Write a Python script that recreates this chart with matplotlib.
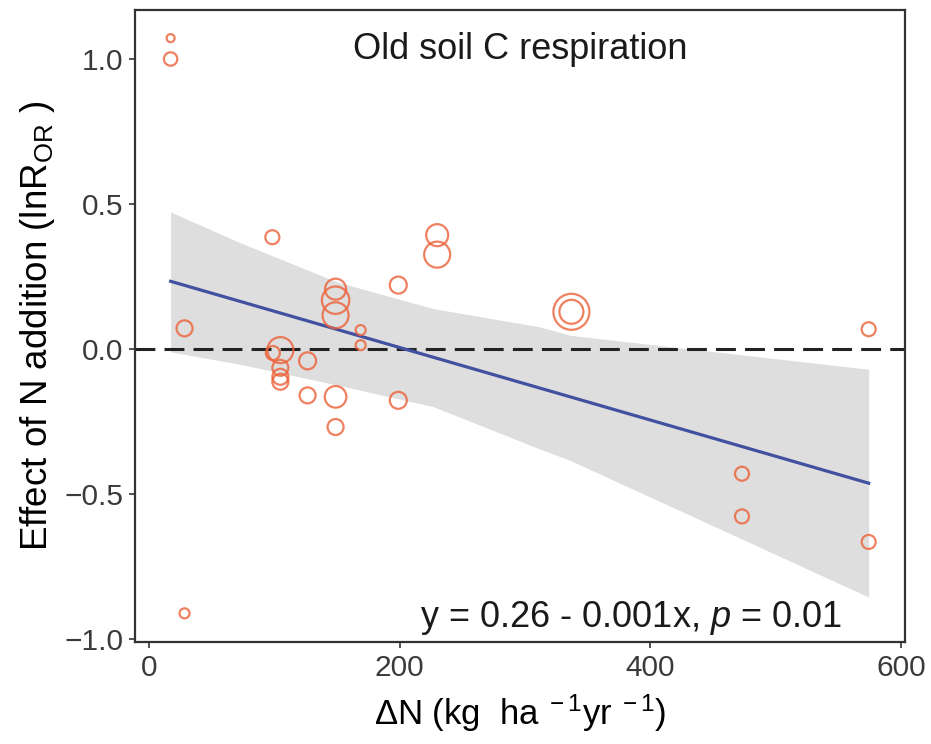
import numpy as np
import matplotlib
matplotlib.use("Agg")
import matplotlib.pyplot as plt

plt.rcParams['font.family'] = ['Liberation Sans', 'DejaVu Sans']
plt.rcParams['mathtext.fontset'] = 'custom'
plt.rcParams['mathtext.rm'] = 'Liberation Sans'
plt.rcParams['mathtext.it'] = 'Liberation Sans:italic'

# data
dn = [17.5, 17.5, 28.6, 28.6, 98.6, 99, 105, 105, 105, 105, 126.7, 126.7,
      149, 149, 149, 149, 149, 169, 169, 199, 199, 230, 230, 337, 337,
      473, 473, 574, 574]
lnr = [1.072, 1.0, 0.072, -0.91, 0.386, -0.013, -0.003, -0.064, -0.095, -0.112,
       -0.04, -0.159, 0.207, 0.169, 0.117, -0.164, -0.268, 0.066, 0.014,
       0.221, -0.176, 0.393, 0.326, 0.129, 0.129, -0.429, -0.576, 0.069, -0.664]
wt = [4, 6.7, 8, 5, 7, 7, 13, 8, 8, 8, 8.5, 8, 10.5, 13.7, 13, 10.8, 8,
      5, 5, 8.5, 8.5, 11, 13, 18, 12, 7, 7, 7, 7]

intercept = 0.256
slope = -0.00125

# confidence band edges
ci_x = [17.5, 73, 150, 227, 312, 336, 574]
ci_hi = [0.473, 0.367, 0.232, 0.140, 0.077, 0.048, -0.069]
ci_lo = [-0.009, -0.052, -0.123, -0.198, -0.344, -0.383, -0.854]

fig = plt.figure(figsize=(9.31, 7.44), dpi=100)
ax = fig.add_axes([0.145, 0.137, 0.827, 0.8496])

ax.fill_between(ci_x, ci_lo, ci_hi, color='#DEDEDE', lw=0, zorder=1)
ax.axhline(0, color='#222222', lw=2.2, dashes=(6.5, 3), zorder=2)

xx = np.array([min(dn), max(dn)])
ax.plot(xx, intercept + slope * xx, color='#4151A0', lw=2.3, zorder=3)

sizes = [(1.44 * w) ** 2 for w in wt]
ax.scatter(dn, lnr, s=sizes, facecolors='none', edgecolors='#EC6038',
           linewidths=1.6, alpha=0.8, zorder=4)

ax.set_xlim(-10.9, 602.9)
ax.set_ylim(-1.009, 1.169)
ax.set_xticks([0, 200, 400, 600])
ax.set_yticks([-1.0, -0.5, 0.0, 0.5, 1.0])
ax.set_yticklabels(['\u22121.0', '\u22120.5', '0.0', '0.5', '1.0'])

for s in ax.spines.values():
    s.set_color('#333333')
    s.set_linewidth(1.6)
ax.tick_params(colors='#333333', labelcolor='#3A3A3A', labelsize=21.5,
               length=4.5, width=1.2, pad=4)

ax.set_ylabel(r'Effect of N addition (lnR$_{\mathrm{OR}}$ )', fontsize=26.5, labelpad=5)
ax.set_xlabel(r'ΔN (kg  ha$^{\mathrm{\ -1}}$yr$^{\mathrm{\ -1}}$)', fontsize=25, labelpad=8)

ax.text(0.5, 0.922, 'Old soil C respiration', transform=ax.transAxes,
        ha='center', va='baseline', fontsize=26, color='#1A1A1A')
ax.text(0.918, 0.024, r'y = 0.26 - 0.001x, $p$ = 0.01', transform=ax.transAxes,
        ha='right', va='baseline', fontsize=26, color='#1A1A1A')

fig.savefig('out.png', dpi=100)
